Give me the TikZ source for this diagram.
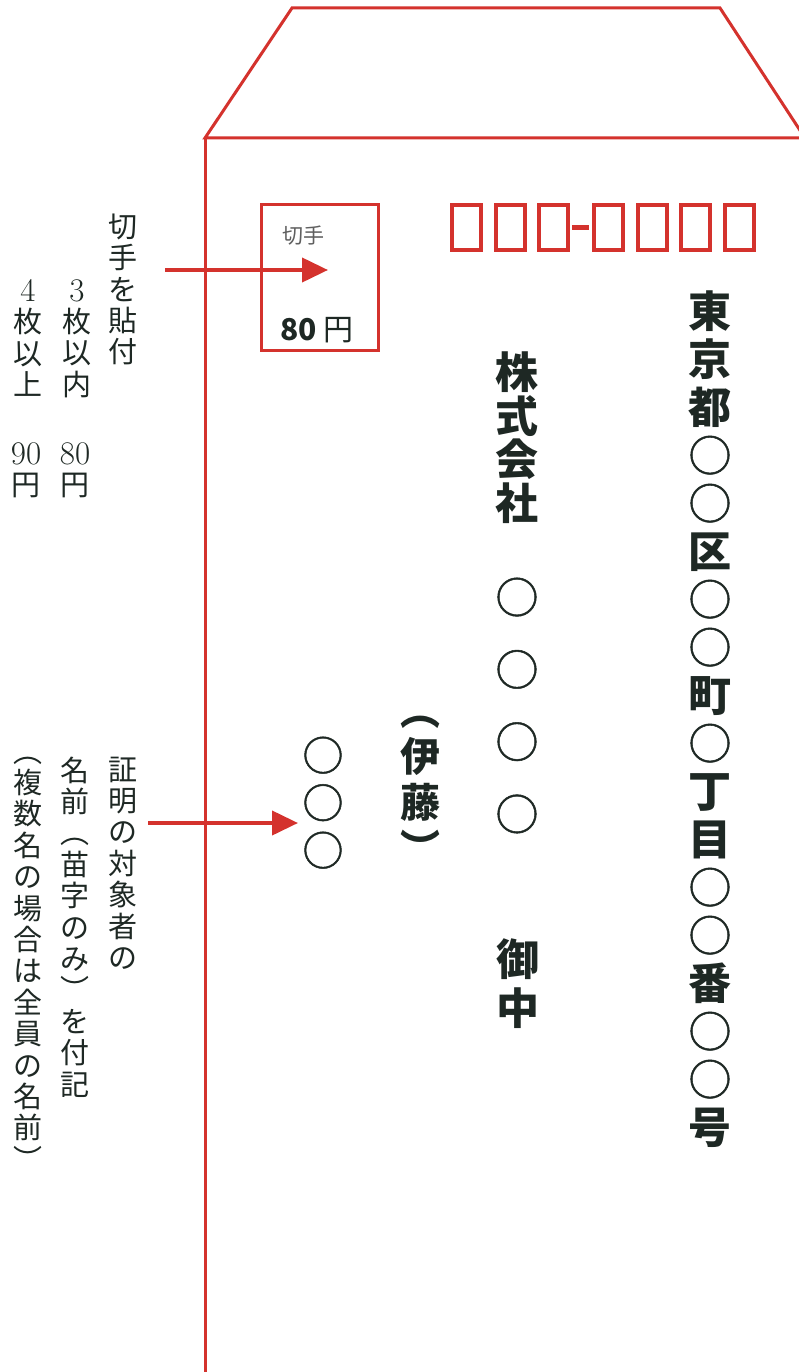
\documentclass[tikz,border=0pt]{standalone}
\usepackage{fontspec}
\newfontfamily\jpfont{Noto Sans CJK JP}
\newfontfamily\ringfont{Noto Sans CJK JP}[FakeBold=1.2]
\usetikzlibrary{arrows.meta}
\definecolor{envred}{RGB}{212,50,45}
\definecolor{inkdark}{RGB}{30,40,36}
\definecolor{stampgray}{RGB}{95,95,95}
\newcommand\cellstrut{\rule{0pt}{0.88em}}
\newcommand\numtext[1]{{\rmfamily\fontsize{33}{31.4}\selectfont #1}}
\newcommand\maru{{\ringfont\mdseries ○}}

\begin{document}
\begin{tikzpicture}[
    x=1pt, y=-1pt,
    % envelope, boxes and arrows
    envline/.style={draw=envred, line width=3pt, line join=miter},
    zipbox/.style={rectangle, draw=envred, line width=4pt, minimum width=29pt, minimum height=45pt, inner sep=0pt},
    zipdash/.style={draw=envred, line width=5pt, shorten <=2pt, shorten >=3pt},
    stampbox/.style={rectangle, draw=envred, line width=3pt, minimum width=117pt, minimum height=146pt, inner sep=0pt},
    notearrow/.style={draw=envred, line width=4pt, -{Triangle[length=26pt,width=24pt]}},
    % vertical text columns
    note/.style={font=\jpfont\fontsize{29}{31.4}\selectfont, text=inkdark, align=center, inner sep=0pt, anchor=north, execute at begin node=\cellstrut},
    brush/.style n args={2}{font=\jpfont\bfseries\fontsize{#1}{#2}\selectfont, text=inkdark, align=center, inner sep=0pt, anchor=north, execute at begin node=\cellstrut},
    ring/.style n args={2}{font=\ringfont\fontsize{#1}{#2}\selectfont, text=inkdark, align=center, inner sep=0pt, anchor=north, execute at begin node=\cellstrut}
]

\fill[white] (0,0) rectangle (799,1372);
\useasboundingbox (0,0) rectangle (799,1372);
\clip (0,0) rectangle (799,1372);

% Envelope outline with flap
\draw[envline] (205,138) -- (292,8) -- (720,8) -- (805,138) -- cycle;
\draw[envline] (205,138) -- (205,1380);

% Postal code boxes
\foreach \i in {0,1,2}
    \node[zipbox] (zipa\i) at (466.5+43.5*\i,227.5) {};
\foreach \i in {0,...,3}
    \node[zipbox] (zipb\i) at (608.5+43.5*\i,227.5) {};
\draw[zipdash] (zipa2) -- (zipb0);

% Stamp
\node[stampbox] (stamp) at (320,277.5) {};
\node[font=\jpfont\fontsize{21}{21}\selectfont, text=stampgray, inner sep=0pt] (stamplabel) at (303,236) {切手};
\node[font=\jpfont\fontsize{30}{30}\selectfont, text=inkdark, inner sep=0pt] (stampvalue) at (317,330) {\bfseries 80 \mdseries 円};

% Notes on the stamp
\node[note] (stampnote) at (123,213.5) {切\\手\\を\\貼\\付};
\node[note] (rule3) at (77,279) {\numtext{3}\\枚\\以\\内};
\node[note] (rule4) at (28,279) {\numtext{4}\\枚\\以\\上};
\node[note] (yen3) at (75,442) {\numtext{80}\\円};
\node[note] (yen4) at (26,442) {\numtext{90}\\円};

% Notes on the name
\node[note] (proofnote) at (123,756.5) {証\\明\\の\\対\\象\\者\\の};
\node[note] (surnamenote) at (75,756.5) {名\\前\\︵\\苗\\字\\の\\み\\︶\\を\\付\\記};
\node[note] (groupnote) at (28,756.5) {︵\\複\\数\\名\\の\\場\\合\\は\\全\\員\\の\\名\\前\\︶};

% Address and recipient
\node[brush={43}{48}] (address) at (710,290.5) {東\\京\\都\\\maru\\\maru\\区\\\maru\\\maru\\町\\\maru\\丁\\目\\\maru\\\maru\\番\\\maru\\\maru\\号};
\node[brush={43}{43.5}] (company) at (517,352) {株\\式\\会\\社};
\node[ring={43}{72.3}] (companyname) at (517,577.5) {○\\○\\○\\○};
\node[brush={40}{46}] (person) at (420,715.5) {︵\\伊\\藤\\︶};
\node[brush={43}{49}] (onchu) at (518,938.5) {御\\中};
\node[ring={41}{47.5}] (surname) at (323,736.5) {○\\○\\○};

% Arrows
\coordinate (stampfrom) at (165,270);
\coordinate (stamptip) at (328,270);
\coordinate (namefrom) at (148,823);
\coordinate (nametip) at (298,823);
\draw[notearrow] (stampfrom) -- (stamptip);
\draw[notearrow] (namefrom) -- (nametip);

\end{tikzpicture}
\end{document}
